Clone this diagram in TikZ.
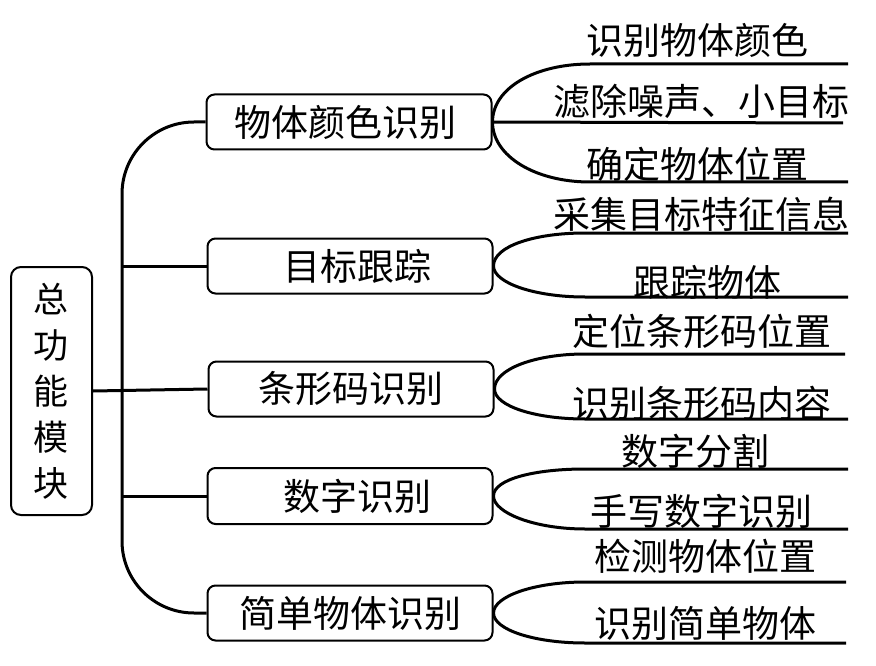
\documentclass[tikz,border=0pt]{standalone}
\usepackage{fontspec}
\newfontfamily\cjk{Noto Sans CJK SC}
\begin{document}
\begin{tikzpicture}[x=1pt,y=-1pt,
  every node/.style={font=\cjk\fontsize{37}{46}\selectfont,inner sep=0pt},
  mbox/.style={draw,line width=2pt,rounded corners=8pt,minimum width=285pt,minimum height=55pt},
  conn/.style={line width=3pt},
  leaf/.style={anchor=center}]
\useasboundingbox (0,0) rectangle (876,666);
% root
\node[draw,line width=2pt,rounded corners=10pt,minimum width=81pt,minimum height=248pt,align=center,font=\cjk\fontsize{35}{46}\selectfont] (root) at (51.5,391) {总\\功\\能\\模\\块};
% main boxes
\node[mbox] (b1) at (349,122) {\hspace*{-8pt}物体颜色识别};
\node[mbox] (b2) at (350,266) {\hspace*{14pt}目标跟踪};
\node[mbox] (b3) at (351,389) {\raisebox{-2pt}{条形码识别}};
\node[mbox,minimum height=56pt] (b4) at (350,496) {\hspace*{14pt}\raisebox{-5pt}{数字识别}};
\node[mbox] (b5) at (350,613) {\raisebox{-6pt}{简单物体识别}};
% trunk
\coordinate (tr) at (122,390);
\draw[conn,rounded corners=72pt] (b1.west) -| (tr) |- (b5.west);
\draw[conn] (root.east) -- (b3.west);
\draw[conn] (b2.west -| tr) -- (b2.west);
\draw[conn] (b4.west -| tr) -- (b4.west);
% leaf line ends
\coordinate (u1) at (590,64);  \coordinate (U1) at (848,64);
\coordinate (m1) at (843,123);
\coordinate (l1) at (590,182); \coordinate (L1) at (848,182);
\coordinate (u2) at (585,233); \coordinate (U2) at (848,233);
\coordinate (l2) at (585,297); \coordinate (L2) at (848,297);
\coordinate (u3) at (585,354); \coordinate (U3) at (845,354);
\coordinate (l3) at (585,419); \coordinate (L3) at (848,419);
\coordinate (u4) at (585,469); \coordinate (U4) at (848,469);
\coordinate (l4) at (585,529); \coordinate (L4) at (848,529);
\coordinate (u5) at (585,582); \coordinate (U5) at (846,582);
\coordinate (l5) at (585,643); \coordinate (L5) at (846,643);
% leaf connectors
\draw[conn] (b1.east) .. controls +(0,-34) and +(-55,0) .. (u1) -- (U1);
\draw[conn] (b1.east) .. controls +(0,34) and +(-55,0) .. (l1) -- (L1);
\draw[conn] (b1.east) -- (m1);
\draw[conn] (b2.east) .. controls +(0,-20) and +(-50,0) .. (u2) -- (U2);
\draw[conn] (b2.east) .. controls +(0,17) and +(-50,0) .. (l2) -- (L2);
\draw[conn] (b3.east) .. controls +(0,-20) and +(-50,0) .. (u3) -- (U3);
\draw[conn] (b3.east) .. controls +(0,17) and +(-50,0) .. (l3) -- (L3);
\draw[conn] (b4.east) .. controls +(0,-17) and +(-50,0) .. (u4) -- (U4);
\draw[conn] (b4.east) .. controls +(0,17) and +(-50,0) .. (l4) -- (L4);
\draw[conn] (b5.east) .. controls +(0,-17) and +(-50,0) .. (u5) -- (U5);
\draw[conn] (b5.east) .. controls +(0,17) and +(-50,0) .. (l5) -- (L5);
% leaf texts
\node[leaf] (t11) at (697,40) {识别物体颜色};
\node[leaf] (t12) at (701,101) {滤除噪声、小目标};
\node[leaf] (t13) at (697,164) {确定物体位置};
\node[leaf] (t21) at (701,214) {采集目标特征信息};
\node[leaf] (t22) at (707,282) {跟踪物体};
\node[leaf] (t31) at (702,331) {定位条形码位置};
\node[leaf] (t32) at (702,403) {识别条形码内容};
\node[leaf] (t41) at (695,451) {数字分割};
\node[leaf] (t42) at (701,511) {手写数字识别};
\node[leaf] (t51) at (705,556) {检测物体位置};
\node[leaf] (t52) at (705,623) {识别简单物体};
\end{tikzpicture}
\end{document}
